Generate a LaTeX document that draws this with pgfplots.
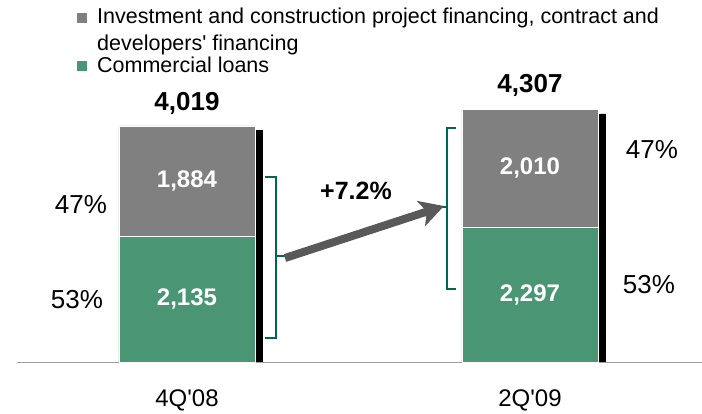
\documentclass[border=0pt]{standalone}
\usepackage{pgfplots}
\pgfplotsset{compat=1.18}
\usepackage{fontspec}
\setmainfont{Liberation Sans}
\usetikzlibrary{arrows.meta}
\definecolor{cgreen}{RGB}{74,150,116}
\definecolor{cgray}{RGB}{128,128,128}
\definecolor{cbrack}{RGB}{0,102,80}
\definecolor{carrow}{RGB}{89,89,89}
\definecolor{caxis}{RGB}{160,160,160}
\newcommand{\fs}[1]{\fontsize{#1}{#1}\selectfont}
\begin{document}
\begin{tikzpicture}[x=1pt,y=1pt]
\path[use as bounding box] (0,0) rectangle (702,-413);
% shadow bars
\begin{axis}[
  at={(17pt,-362pt)}, anchor=south west, scale only axis,
  width=685pt, height=264.3pt,
  xmin=-0.4956, xmax=1.5015, ymin=0, ymax=4500,
  axis lines=none, ticks=none,
  ybar, bar width=8pt, bar shift=72pt,
]
\addplot[fill=black, draw=none] coordinates {(0,3950) (1,4225)};
\end{axis}
% main stacked bars
\begin{axis}[
  at={(17pt,-362pt)}, anchor=south west, scale only axis,
  width=685pt, height=264.3pt,
  xmin=-0.4956, xmax=1.5015, ymin=0, ymax=4500,
  clip=false,
  ybar stacked, bar width=136pt,
  axis x line*=bottom, axis y line=none,
  x axis line style={caxis, line width=1pt},
  xtick={0,1}, xticklabels={4Q\textquotesingle 08, 2Q\textquotesingle 09},
  ytick=\empty,
  major tick length=0pt,
  xticklabel style={font=\fs{24}, yshift=-24pt},
]
\addplot[fill=cgreen, draw=white, line width=0.7pt] coordinates {(0,2135) (1,2297)};
\addplot[fill=cgray, draw=white, line width=0.7pt] coordinates {(0,1884) (1,2010)};
\coordinate (g1) at (axis cs:0,1067.5);
\coordinate (r1) at (axis cs:0,3077);
\coordinate (g2) at (axis cs:1,1148.5);
\coordinate (r2) at (axis cs:1,3302);
\coordinate (t1) at (axis cs:0,4019);
\coordinate (t2) at (axis cs:1,4307);
\end{axis}
% value labels
\node[text=white, font=\bfseries\fs{24}] at (g1) {2,135};
\node[text=white, font=\bfseries\fs{24}] at (r1) {1,884};
\node[text=white, font=\bfseries\fs{24}] at (g2) {2,297};
\node[text=white, font=\bfseries\fs{24}] at (r2) {2,010};
\node[font=\bfseries\fs{26}, yshift=23pt] at (t1) {4,019};
\node[font=\bfseries\fs{26}, yshift=24pt] at (t2) {4,307};
% legend
\fill[cgray] (77,-13) rectangle (87,-23);
\fill[cgreen] (77,-61) rectangle (87,-71);
\node[anchor=base west, inner sep=0pt, font=\fs{21.5}] at (97,-23) {Investment and construction project financing, contract and};
\node[anchor=base west, inner sep=0pt, font=\fs{21.5}] at (97,-50) {developers\textquotesingle{} financing};
\node[anchor=base west, inner sep=0pt, font=\fs{21.5}] at (97,-72) {Commercial loans};
% percent labels
\node[font=\fs{26}] at (81,-204.5) {47\%};
\node[font=\fs{26}] at (77,-300) {53\%};
\node[font=\fs{26}] at (652,-150) {47\%};
\node[font=\fs{26}] at (649,-285) {53\%};
% brackets
\draw[cbrack, line width=1.5pt] (265,-177) -- (276,-177) -- (276,-338) -- (265,-338);
\draw[cbrack, line width=1.5pt] (276,-256) -- (286,-256);
\draw[cbrack, line width=1.5pt] (456,-128) -- (447,-128) -- (447,-289) -- (456,-289);
\draw[cbrack, line width=1.5pt] (447,-207) -- (439,-207);
% arrow
\draw[carrow, line width=8pt, -{Stealth[length=24pt, width=26pt, inset=6pt]}] (285,-258) -- (444,-206);
\node[font=\bfseries\fs{25}] at (356,-190.5) {+7.2\%};
\end{tikzpicture}
\end{document}
